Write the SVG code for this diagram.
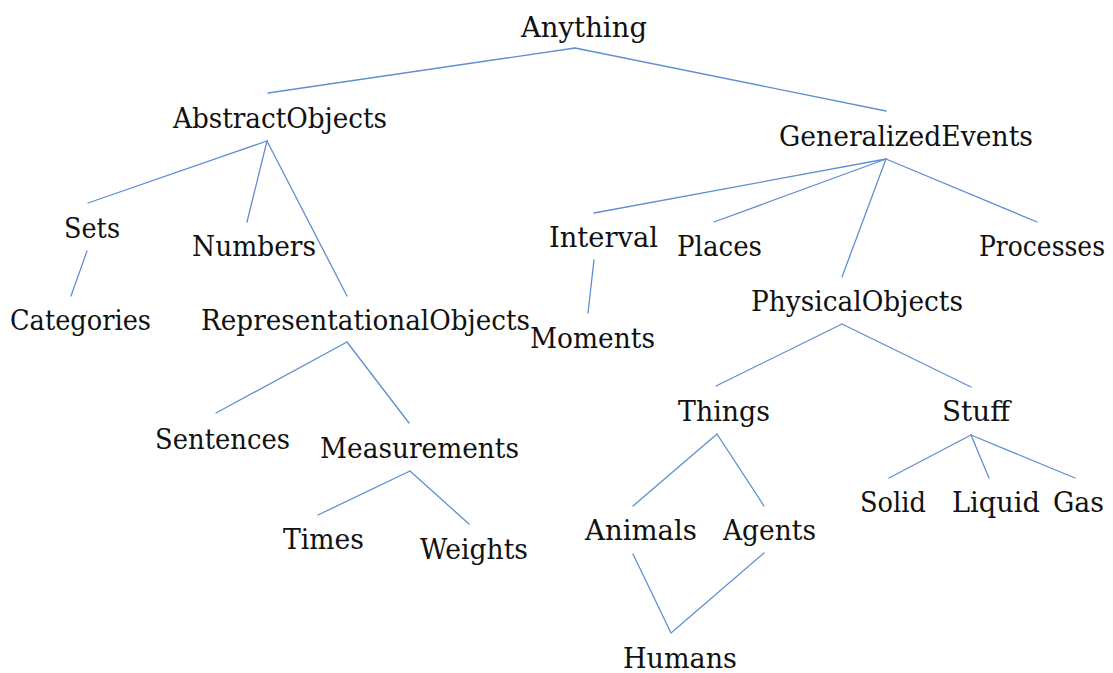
<svg xmlns="http://www.w3.org/2000/svg" width="1113" height="673" viewBox="0 0 1113 673">
  <style>
    .lbl { font-family: "DejaVu Serif", "Liberation Serif", serif; font-size: 27px; fill: #111; }
    .edge { stroke: #5f8fd0; stroke-width: 1.3; fill: none; stroke-linecap: round; }
  </style>
  <rect width="1113" height="673" fill="#ffffff"/>

  <!-- connectors -->
  <g id="connectors">
    <line class="edge" x1="575" y1="48" x2="268" y2="93"/>
    <line class="edge" x1="575" y1="48" x2="886" y2="111"/>
    <line class="edge" x1="267" y1="141" x2="88" y2="203"/>
    <line class="edge" x1="267" y1="141" x2="247" y2="222"/>
    <line class="edge" x1="267" y1="141" x2="347" y2="296"/>
    <line class="edge" x1="87" y1="251" x2="71" y2="296"/>
    <line class="edge" x1="347" y1="342" x2="216" y2="413"/>
    <line class="edge" x1="347" y1="342" x2="409" y2="423"/>
    <line class="edge" x1="410" y1="471" x2="318" y2="515"/>
    <line class="edge" x1="410" y1="471" x2="469" y2="524"/>
    <line class="edge" x1="886" y1="159" x2="594" y2="213"/>
    <line class="edge" x1="886" y1="159" x2="714" y2="222"/>
    <line class="edge" x1="886" y1="159" x2="842" y2="277"/>
    <line class="edge" x1="886" y1="159" x2="1037" y2="222"/>
    <line class="edge" x1="594" y1="260" x2="588" y2="313"/>
    <line class="edge" x1="842" y1="324" x2="716" y2="386"/>
    <line class="edge" x1="842" y1="324" x2="971" y2="387"/>
    <line class="edge" x1="717" y1="434" x2="633" y2="506"/>
    <line class="edge" x1="717" y1="434" x2="764" y2="506"/>
    <polyline class="edge" points="633,554 671,633 764,553"/>
    <line class="edge" x1="971" y1="435" x2="889" y2="478"/>
    <line class="edge" x1="971" y1="435" x2="989" y2="478"/>
    <line class="edge" x1="971" y1="435" x2="1075" y2="478"/>
  </g>

  <!-- nodes -->
  <g id="anything"><text class="lbl" x="521" y="37" textLength="126" lengthAdjust="spacingAndGlyphs">Anything</text></g>
  <g id="abstract-objects"><text class="lbl" x="173" y="128" textLength="214" lengthAdjust="spacingAndGlyphs">AbstractObjects</text></g>
  <g id="generalized-events"><text class="lbl" x="779" y="146" textLength="254" lengthAdjust="spacingAndGlyphs">GeneralizedEvents</text></g>
  <g id="sets"><text class="lbl" x="64" y="238" textLength="56" lengthAdjust="spacingAndGlyphs">Sets</text></g>
  <g id="numbers"><text class="lbl" x="192" y="256" textLength="124" lengthAdjust="spacingAndGlyphs">Numbers</text></g>
  <g id="categories"><text class="lbl" x="10" y="330" textLength="141" lengthAdjust="spacingAndGlyphs">Categories</text></g>
  <g id="representational-objects"><text class="lbl" x="201" y="330" textLength="329" lengthAdjust="spacingAndGlyphs">RepresentationalObjects</text></g>
  <g id="sentences"><text class="lbl" x="155" y="449" textLength="135" lengthAdjust="spacingAndGlyphs">Sentences</text></g>
  <g id="measurements"><text class="lbl" x="320" y="458" textLength="199" lengthAdjust="spacingAndGlyphs">Measurements</text></g>
  <g id="times"><text class="lbl" x="283" y="549" textLength="81" lengthAdjust="spacingAndGlyphs">Times</text></g>
  <g id="weights"><text class="lbl" x="420" y="559" textLength="108" lengthAdjust="spacingAndGlyphs">Weights</text></g>
  <g id="interval"><text class="lbl" x="549" y="247" textLength="109" lengthAdjust="spacingAndGlyphs">Interval</text></g>
  <g id="places"><text class="lbl" x="677" y="256" textLength="85" lengthAdjust="spacingAndGlyphs">Places</text></g>
  <g id="processes"><text class="lbl" x="979" y="256" textLength="126" lengthAdjust="spacingAndGlyphs">Processes</text></g>
  <g id="moments"><text class="lbl" x="530" y="348" textLength="125" lengthAdjust="spacingAndGlyphs">Moments</text></g>
  <g id="physical-objects"><text class="lbl" x="751" y="311" textLength="212" lengthAdjust="spacingAndGlyphs">PhysicalObjects</text></g>
  <g id="things"><text class="lbl" x="678" y="421" textLength="92" lengthAdjust="spacingAndGlyphs">Things</text></g>
  <g id="stuff"><text class="lbl" x="942" y="421" textLength="68" lengthAdjust="spacingAndGlyphs">Stuff</text></g>
  <g id="animals"><text class="lbl" x="585" y="540" textLength="112" lengthAdjust="spacingAndGlyphs">Animals</text></g>
  <g id="agents"><text class="lbl" x="723" y="540" textLength="93" lengthAdjust="spacingAndGlyphs">Agents</text></g>
  <g id="humans"><text class="lbl" x="623" y="668" textLength="114" lengthAdjust="spacingAndGlyphs">Humans</text></g>
  <g id="solid"><text class="lbl" x="860" y="512" textLength="66" lengthAdjust="spacingAndGlyphs">Solid</text></g>
  <g id="liquid"><text class="lbl" x="952" y="512" textLength="88" lengthAdjust="spacingAndGlyphs">Liquid</text></g>
  <g id="gas"><text class="lbl" x="1053" y="512" textLength="51" lengthAdjust="spacingAndGlyphs">Gas</text></g>
</svg>
